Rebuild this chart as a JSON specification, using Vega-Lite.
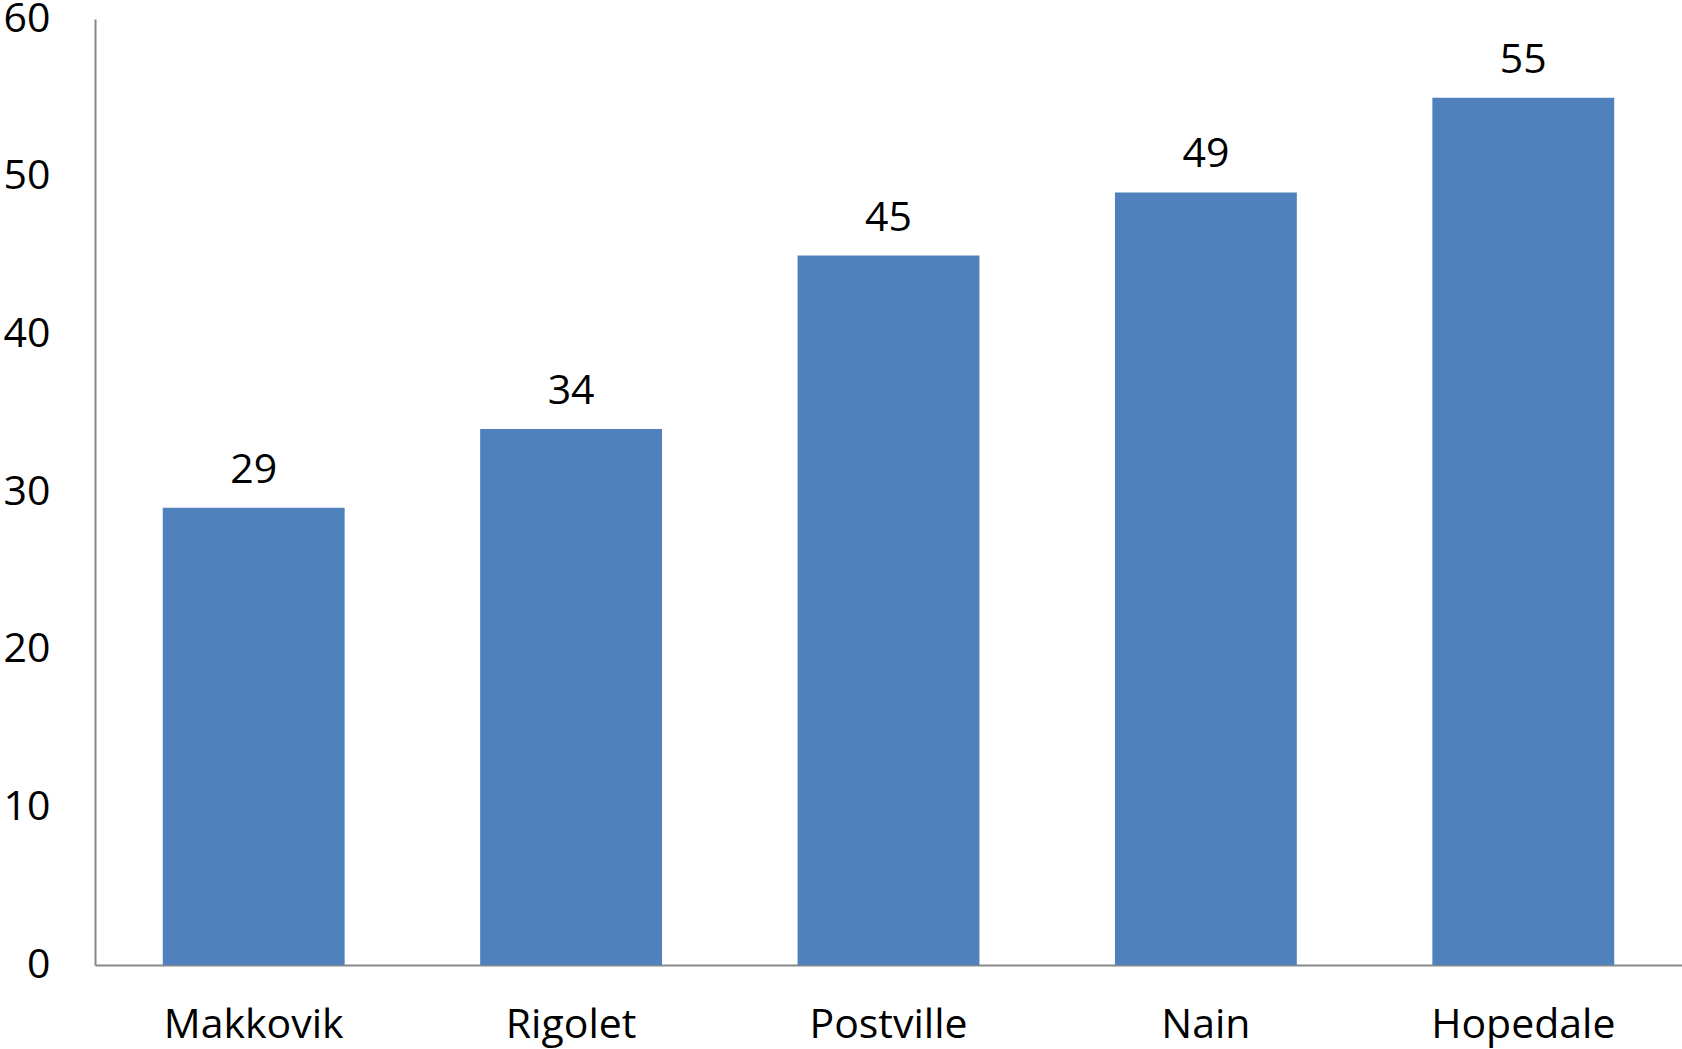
{
  "$schema": "https://vega.github.io/schema/vega-lite/v6.json",
  "width": 1587,
  "height": 946,
  "autosize": {"type": "none"},
  "padding": {"left": 95, "top": 19, "right": 0, "bottom": 84},
  "background": "white",
  "config": {"view": {"stroke": null}, "font": "Open Sans"},
  "data": {"values": [
    {"community": "Makkovik", "value": 29},
    {"community": "Rigolet", "value": 34},
    {"community": "Postville", "value": 45},
    {"community": "Nain", "value": 49},
    {"community": "Hopedale", "value": 55}
  ]},
  "encoding": {
    "x": {"field": "community", "type": "nominal", "sort": null,
      "scale": {"paddingInner": 0.427, "paddingOuter": 0.2135},
      "axis": {"title": null, "labelAngle": 0, "ticks": false, "domainColor": "#888888", "domainWidth": 2,
        "labelFont": "Open Sans", "labelFontSize": 41, "labelColor": "black", "labelPadding": 40, "labelBaseline": "top", "labelLimit": 0}},
    "y": {"field": "value", "type": "quantitative",
      "scale": {"domain": [0, 60], "nice": false},
      "axis": {"title": null, "values": [0, 10, 20, 30, 40, 50, 60], "grid": false, "ticks": false,
        "domainColor": "#888888", "domainWidth": 2,
        "labelFont": "Open Sans", "labelFontSize": 41, "labelColor": "black", "labelPadding": 45}}
  },
  "layer": [
    {"mark": {"type": "bar", "color": "#4F81BD"}},
    {"mark": {"type": "text", "baseline": "alphabetic", "dy": -25, "fontSize": 41, "font": "Open Sans", "color": "black"},
      "encoding": {"text": {"field": "value", "type": "quantitative"}}}
  ]
}
